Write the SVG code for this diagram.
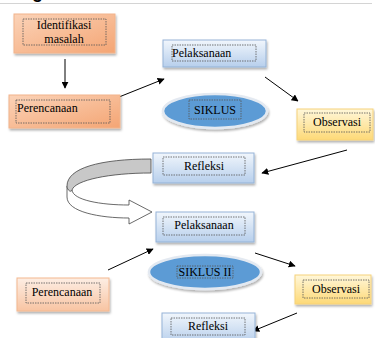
<svg xmlns="http://www.w3.org/2000/svg" width="375" height="338" viewBox="0 0 375 338">
<defs>
<linearGradient id="gBlue" x1="0" y1="0" x2="0" y2="1"><stop offset="0" stop-color="#f1f6fc"/><stop offset="1" stop-color="#b7cfec"/></linearGradient>
<linearGradient id="gOrange" x1="0" y1="0" x2="1" y2="1"><stop offset="0" stop-color="#fbd3b8"/><stop offset="1" stop-color="#f4a574"/></linearGradient>
<linearGradient id="gOrange2" x1="0" y1="0" x2="0" y2="1"><stop offset="0" stop-color="#fdeee4"/><stop offset="1" stop-color="#f8c4a2"/></linearGradient>
<linearGradient id="gYellow" x1="0" y1="0" x2="0" y2="1"><stop offset="0" stop-color="#fff7da"/><stop offset="1" stop-color="#fdd977"/></linearGradient>
<filter id="sh" x="-10%" y="-10%" width="130%" height="140%"><feDropShadow dx="1" dy="2" stdDeviation="1" flood-color="#000" flood-opacity="0.3"/></filter>
<marker id="ah" viewBox="0 0 10 10" refX="9" refY="5" markerWidth="7" markerHeight="7" orient="auto" markerUnits="userSpaceOnUse"><path d="M0,0 L10,5 L0,10 Z" fill="#000"/></marker>
</defs>
<style>
.t{font-family:"Liberation Serif","Times New Roman",serif;font-size:12px;fill:#000}
.m{text-anchor:middle}
.d{fill:none;stroke:#555;stroke-width:0.8;stroke-dasharray:1.5 1}
.bl{fill:url(#gBlue);stroke:#95b3d7;stroke-width:1;filter:url(#sh)}
.or{fill:url(#gOrange);stroke:#f2b48c;stroke-width:1;filter:url(#sh)}
.or2{fill:url(#gOrange2);stroke:#f4b890;stroke-width:1;filter:url(#sh)}
.ye{fill:url(#gYellow);stroke:#f6d27a;stroke-width:1;filter:url(#sh)}
.el{fill:#5b9bd5;stroke:#e3e9f1;stroke-width:2.5;filter:url(#sh)}
.c{fill:none;stroke:#000;stroke-width:1;marker-end:url(#ah)}
</style>
<rect width="375" height="338" fill="#fff"/>
<line x1="0" y1="3.5" x2="372" y2="3.5" stroke="#d4d4d4" stroke-width="1"/>
<text x="32" y="-2" style="font-family:'Liberation Sans',Arial,sans-serif;font-size:18px;font-weight:bold">g</text>

<g id="connectors">
<line class="c" x1="65" y1="59" x2="65" y2="88"/>
<line class="c" x1="119" y1="97" x2="164" y2="79"/>
<line class="c" x1="265" y1="77" x2="298" y2="101"/>
<line class="c" x1="347" y1="150" x2="262" y2="173"/>
<line class="c" x1="108" y1="270" x2="153" y2="249"/>
<line class="c" x1="255" y1="253" x2="295" y2="266"/>
<line class="c" x1="297" y1="313" x2="253" y2="331"/>
<g id="curved-arrow" stroke="#444" stroke-width="0.8">
<path d="M67,186 L67,197 C67,212 100,218 129,218 L129,224 L152,212 L129,200 L129,205 C100,205 73,200 72,190 Z" fill="#fff"/>
<path d="M151,159 C100,159 67,168 67,186 C67,190 71,193 72,190 C75,180 110,173 151,173 Z" fill="#c8c8c8"/>
</g>
</g>

<g id="identifikasi">
<rect class="or" x="14" y="14" width="101" height="39"/>
<rect class="d" x="23" y="19" width="83" height="26"/>
<text class="t m" x="64" y="29">Identifikasi</text>
<text class="t m" x="64" y="43">masalah</text>
</g>
<g id="perencanaan1">
<rect class="or" x="9" y="95" width="111" height="33"/>
<rect class="d" x="16" y="100" width="94" height="23"/>
<text class="t" x="17" y="112">Perencanaan</text>
</g>
<g id="pelaksanaan1">
<rect class="bl" x="163" y="40" width="103" height="27"/>
<rect class="d" x="172" y="45" width="84" height="16"/>
<text class="t" x="172" y="57">Pelaksanaan</text>
</g>
<g id="siklus1">
<ellipse class="el" cx="215" cy="111" rx="52" ry="17"/>
<rect class="d" x="189" y="100" width="52" height="19"/>
<text class="t m" x="215" y="114">SIKLUS</text>
</g>
<g id="observasi1">
<rect class="ye" x="297" y="109" width="76" height="31"/>
<rect class="d" x="304" y="113" width="66" height="19"/>
<text class="t m" x="337" y="126">Observasi</text>
</g>
<g id="refleksi1">
<rect class="bl" x="153" y="153" width="101" height="30"/>
<rect class="d" x="163" y="157" width="82" height="18"/>
<text class="t m" x="204" y="170">Refleksi</text>
</g>
<g id="pelaksanaan2">
<rect class="bl" x="156" y="212" width="98" height="30"/>
<rect class="d" x="163" y="217" width="82" height="18"/>
<text class="t m" x="204" y="229">Pelaksanaan</text>
</g>
<g id="perencanaan2">
<rect class="or2" x="17" y="278" width="92" height="33"/>
<rect class="d" x="26" y="283" width="74" height="20"/>
<text class="t m" x="62" y="296">Perencanaan</text>
</g>
<g id="siklus2">
<ellipse class="el" cx="205" cy="272" rx="56" ry="17"/>
<rect class="d" x="177" y="266" width="56" height="12"/>
<text class="t m" x="205" y="276">SIKLUS II</text>
</g>
<g id="observasi2">
<rect class="ye" x="295" y="275" width="76" height="29"/>
<rect class="d" x="303" y="280" width="66" height="18"/>
<text class="t m" x="336" y="293">Observasi</text>
</g>
<g id="refleksi2">
<rect class="bl" x="162" y="313" width="93" height="30"/>
<rect class="d" x="171" y="318" width="74" height="17"/>
<text class="t m" x="208" y="330">Refleksi</text>
</g>
</svg>
